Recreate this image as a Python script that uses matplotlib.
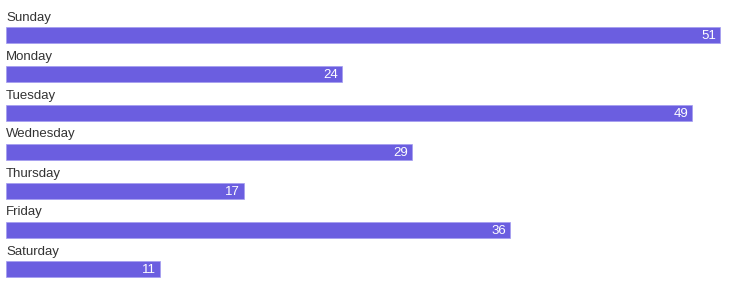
import matplotlib.pyplot as plt

days = ["Sunday", "Monday", "Tuesday", "Wednesday", "Thursday", "Friday", "Saturday"]
counts = [51, 24, 49, 29, 17, 36, 11]

plt.rcParams['font.family'] = ['Liberation Sans', 'DejaVu Sans']

fig = plt.figure(figsize=(7.35, 2.89), dpi=100)
ax = fig.add_axes([0, 0, 1, 1])

# pixel scale: 14 px per unit on x, 39 px per row on y
px_x = 14.0
px_y = 39.0
ax.set_xlim(-6 / px_x, (735 - 6) / px_x)
ax.set_ylim((289 - 35) / px_y, -35 / px_y)

rows = range(len(days))
ax.barh(rows, counts, height=16 / px_y, color="#6b5ee0", edgecolor="#a39cf0", linewidth=0.5)

for i, (d, c) in enumerate(zip(days, counts)):
    ax.text(0, i - 17.5 / px_y, d, ha="left", va="center", fontsize=9.5, color="#333333")
    ax.text(c - 4 / px_x, i + 1 / px_y, str(c), ha="right", va="center", fontsize=9.5, color="white")

ax.axis("off")
fig.savefig("out.png", dpi=100)
